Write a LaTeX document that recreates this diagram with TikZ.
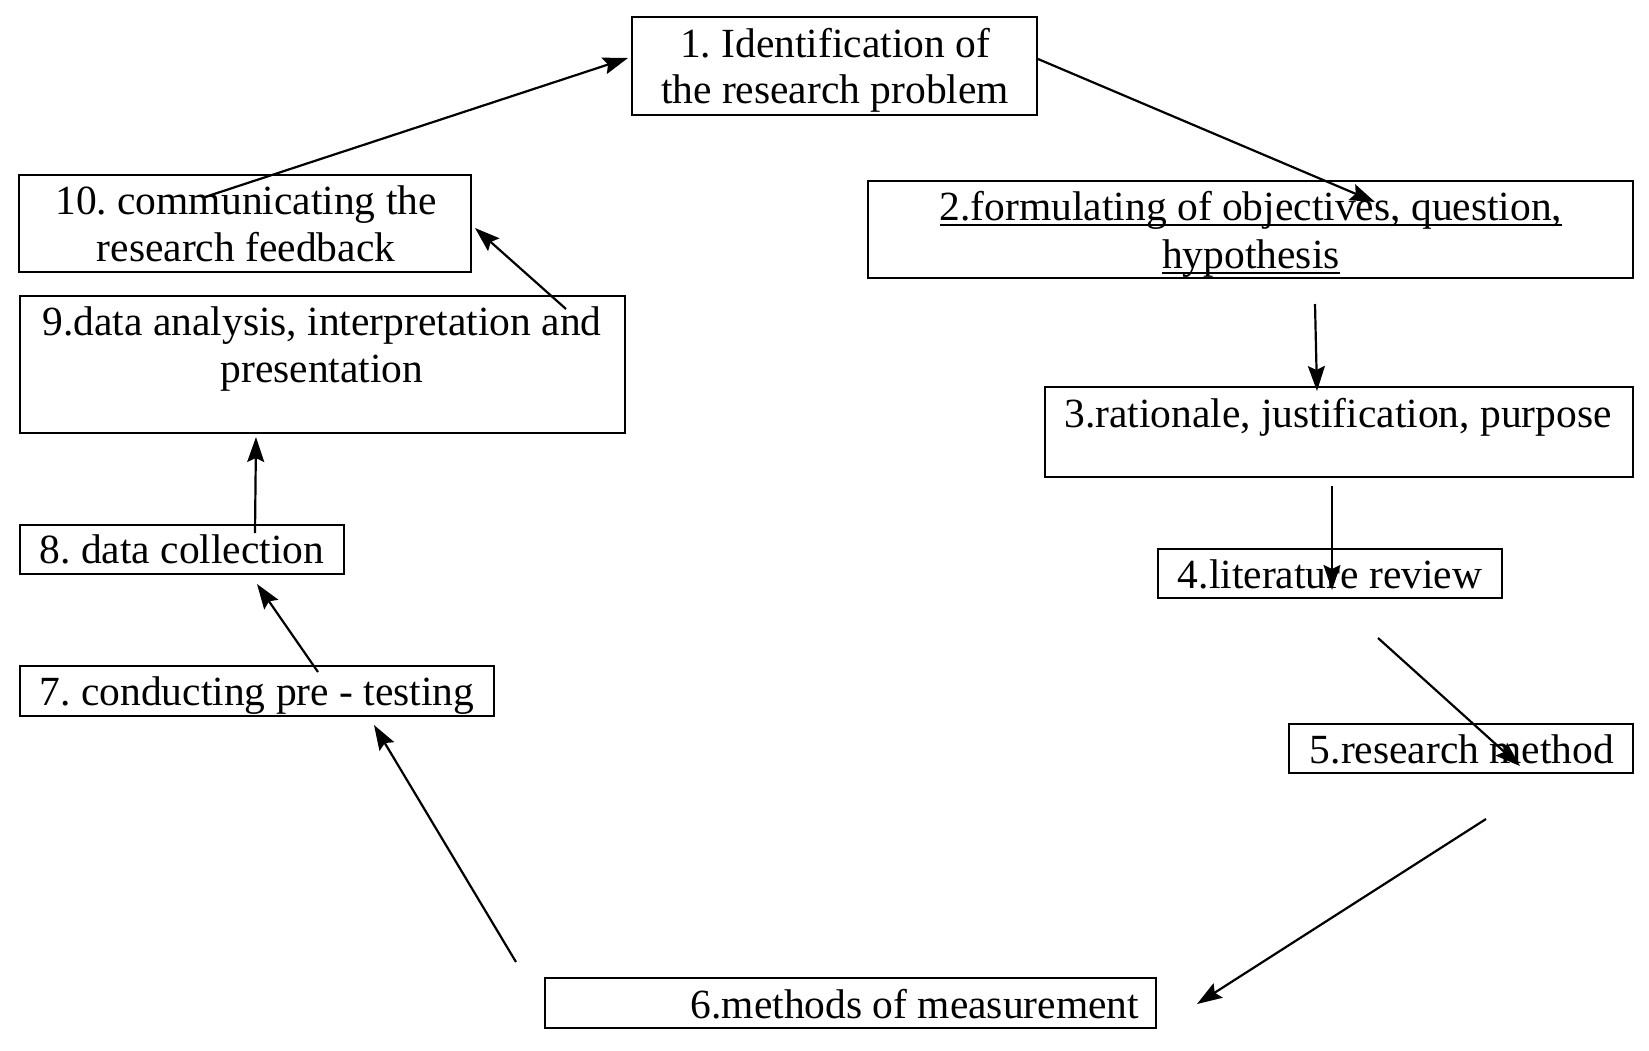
\documentclass[tikz,border=0pt]{standalone}
\usepackage{fontspec}
\setmainfont{Liberation Serif}
\usetikzlibrary{arrows.meta}
\frenchspacing
\begin{document}
\begin{tikzpicture}[x=1pt,y=-1pt,
  box/.style={draw=black,line width=2pt,rectangle,inner sep=0pt,outer sep=0pt},
  txt/.style={inner sep=0pt,outer sep=0pt,font=\frenchspacing\fontsize{41.5}{47}\selectfont},
  arr/.style={line width=2.2pt,-{Stealth[length=25pt,width=17pt,inset=4pt]}},
  uline/.style={line width=2.4pt}]
\useasboundingbox[fill=white] (0,0) rectangle (1649,1050);
% boxes
\node[box,minimum width=405pt,minimum height=98pt] (b1) at (834.5,66) {};
\node[box,minimum width=765pt,minimum height=97pt] (b2) at (1250.5,229.5) {};
\node[box,minimum width=588pt,minimum height=90pt] (b3) at (1339,432) {};
\node[box,minimum width=344pt,minimum height=49pt] (b4) at (1330,573.5) {};
\node[box,minimum width=344pt,minimum height=49pt] (b5) at (1461,748.5) {};
\node[box,minimum width=611pt,minimum height=50pt] (b6) at (850.5,1003) {};
\node[box,minimum width=474pt,minimum height=50pt] (b7) at (257,691) {};
\node[box,minimum width=324pt,minimum height=49pt] (b8) at (182,549.5) {};
\node[box,minimum width=605pt,minimum height=137pt] (b9) at (322.5,364.5) {};
\node[box,minimum width=452pt,minimum height=97pt] (b10) at (245,223.5) {};
% texts
\node[txt,anchor=base] (t1a) at (835,57) {1. Identification of};
\node[txt,anchor=base] (t1b) at (835,103) {the research problem};
\node[txt,anchor=base] (t2a) at (1251,220) {2.formulating of objectives, question,};
\node[txt,anchor=base] (t2b) at (1251,268) {hypothesis};
\node[txt,anchor=base] (t3) at (1338,427) {3.rationale, justification, purpose};
\node[txt,anchor=base] (t4) at (1330,588) {4.literature review};
\node[txt,anchor=base] (t5) at (1462,763) {5.research method};
\node[txt,anchor=base east] (t6) at (1139,1018) {6.methods of measurement};
\node[txt,anchor=base] (t7) at (257,705) {7. conducting pre - testing};
\node[txt,anchor=base] (t8) at (182,563) {8. data collection};
\node[txt,anchor=base] (t9a) at (322,335) {9.data analysis, interpretation and};
\node[txt,anchor=base] (t9b) at (322,382) {presentation};
\node[txt,anchor=base] (t10a) at (246,214) {10. communicating the};
\node[txt,anchor=base] (t10b) at (246,261) {research feedback};
% underlines
\draw[uline] ([yshift=-5pt]t2a.base west) -- ([yshift=-5pt]t2a.base east);
\draw[uline] ([yshift=-5pt]t2b.base west) -- ([yshift=-5pt]t2b.base east);
% arrow end points
\coordinate (a10s) at (205,197); \coordinate (a10e) at (628,58);
\coordinate (a1s) at (1038,59);  \coordinate (a1e) at (1375,202);
\coordinate (a2s) at (1315,304); \coordinate (a2e) at (1317,391);
\coordinate (a3s) at (1332,486); \coordinate (a3e) at (1332,590);
\coordinate (a4s) at (1378,638); \coordinate (a4e) at (1520,766);
\coordinate (a5s) at (1486,819); \coordinate (a5e) at (1197,1004);
\coordinate (a6s) at (516,962);  \coordinate (a6e) at (374,725);
\coordinate (a7s) at (318,672);  \coordinate (a7e) at (257,584);
\coordinate (a8s) at (255,533);  \coordinate (a8e) at (256,437);
\coordinate (a9s) at (566,309);  \coordinate (a9e) at (475,228);
% arrows
\draw[arr] (a10s) -- (a10e);
\draw[arr] (a1s) -- (a1e);
\draw[arr] (a2s) -- (a2e);
\draw[arr] (a3s) -- (a3e);
\draw[arr] (a4s) -- (a4e);
\draw[arr] (a5s) -- (a5e);
\draw[arr] (a6s) -- (a6e);
\draw[arr] (a7s) -- (a7e);
\draw[arr] (a8s) -- (a8e);
\draw[arr] (a9s) -- (a9e);
\end{tikzpicture}
\end{document}
